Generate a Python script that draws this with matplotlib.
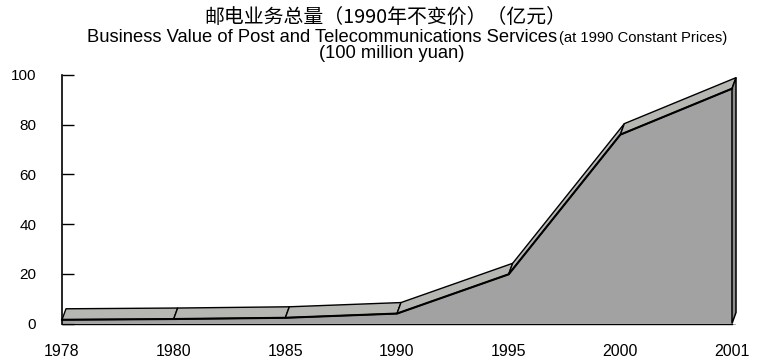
import matplotlib
matplotlib.use("Agg")
import matplotlib.pyplot as plt
from matplotlib.patches import Polygon

years = ["1978", "1980", "1985", "1990", "1995", "2000", "2001"]
values = [1.5, 1.8, 2.3, 4.0, 19.8, 76.0, 94.5]
yticks = [0, 20, 40, 60, 80, 100]

title_cn = "邮电业务总量（1990年不变价）（亿元）"
title_en_main = "Business Value of Post and Telecommunications Services"
title_en_small = "(at 1990 Constant Prices)"
title_unit = "(100 million yuan)"

W, H = 760, 359
fig = plt.figure(figsize=(W / 100, H / 100), dpi=100)
ax_l, ax_r, ax_b, ax_t = 62, 732, 323.5, 75
ax = fig.add_axes([ax_l / W, 1 - ax_b / H, (ax_r - ax_l) / W, (ax_b - ax_t) / H])
n = len(years)
xs = list(range(n))
ax.set_xlim(0, n - 1)
ax.set_ylim(0, 100)

# depth offset (pixels -> data units)
dpx, dpy = 4.0, 11.0
ddx = dpx / ((ax_r - ax_l) / (n - 1))
ddy = dpy / ((ax_b - ax_t) / 100)

front_col = "#a2a2a2"
band_col = "#b6b6b2"
side_col = "#8e8e8e"
floor_col = "#b0b0ac"

# floor strip
floor_h = 1.6 / ((ax_b - ax_t) / 100)
ax.add_patch(Polygon([(0, 0), (n - 1 + ddx, 0), (n - 1 + ddx, -floor_h), (0, -floor_h)],
                     closed=True, facecolor=floor_col, edgecolor="none", clip_on=False, zorder=2))

# front face
ax.fill_between(xs, 0, values, facecolor=front_col, edgecolor="none", zorder=3, clip_on=False)
ax.plot(xs, values, color="black", lw=1.5, zorder=5, clip_on=False)
ax.plot([0, n - 1], [0, 0], color="black", lw=1.0, zorder=5, clip_on=False)

# top band
for i in range(n - 1):
    pts = [(xs[i], values[i]), (xs[i + 1], values[i + 1]),
           (xs[i + 1] + ddx, values[i + 1] + ddy), (xs[i] + ddx, values[i] + ddy)]
    ax.add_patch(Polygon(pts, closed=True, facecolor=band_col, edgecolor="black",
                         lw=1.0, clip_on=False, zorder=4, joinstyle="round"))

# right side face
xe = xs[-1]
side = [(xe, 0), (xe, values[-1]), (xe + ddx, values[-1] + ddy), (xe + ddx, ddy)]
ax.add_patch(Polygon(side, closed=True, facecolor=side_col, edgecolor="black",
                     lw=1.1, clip_on=False, zorder=4))

# axes styling
for s in ["top", "right", "bottom"]:
    ax.spines[s].set_visible(False)
ax.spines["left"].set_linewidth(1.2)
ax.spines["left"].set_zorder(6)
ax.set_yticks(yticks)
ax.set_yticklabels([str(v) for v in yticks])
ax.set_xticks(xs)
ax.set_xticklabels(years)
ax.tick_params(axis="y", direction="in", length=8.6, width=1.0, pad=18.5,
               labelsize=11, labelfontfamily="Liberation Sans")
ax.tick_params(axis="x", length=0, pad=15, labelsize=11.5, labelfontfamily="Liberation Sans")
ax.patch.set_visible(False)

# titles
fig.text(385 / W, 1 - 22.5 / H, title_cn, ha="center", va="baseline", fontsize=14.3,
         family=["Noto Sans CJK SC", "DejaVu Sans"])
fig.text(557 / W, 1 - 42 / H, title_en_main, ha="right", va="baseline", fontsize=13.2,
         family="Liberation Sans")
fig.text(559 / W, 1 - 42 / H, title_en_small, ha="left", va="baseline", fontsize=10.6,
         family="Liberation Sans")
fig.text(392 / W, 1 - 58 / H, title_unit, ha="center", va="baseline", fontsize=13.2,
         family="Liberation Sans")

fig.savefig("out.png", dpi=100)
